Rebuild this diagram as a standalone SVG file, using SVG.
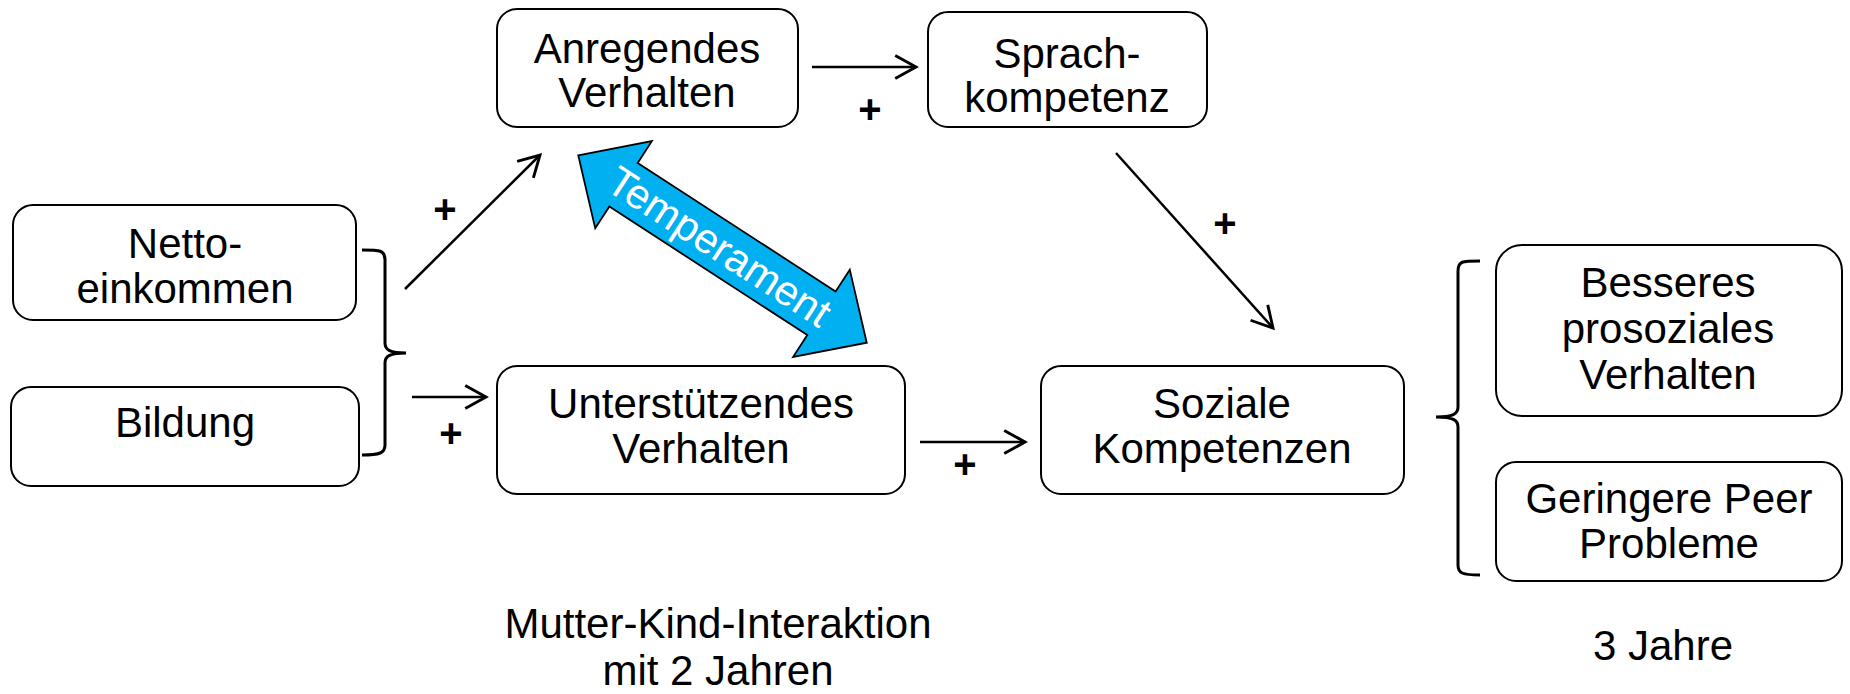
<svg xmlns="http://www.w3.org/2000/svg" width="1850" height="694" viewBox="0 0 1850 694">
<style>
.box{fill:#fff;stroke:#000;stroke-width:2}
.t{font-family:"Liberation Sans",Arial,sans-serif;font-size:42px;fill:#000;text-anchor:middle}
.plus{font-family:"Liberation Sans",Arial,sans-serif;font-size:40px;font-weight:bold;fill:#000;text-anchor:middle}
.ln{fill:none;stroke:#000;stroke-width:2.5}
.brace{fill:none;stroke:#000;stroke-width:3}
</style>
<defs>
<marker id="ah" markerUnits="userSpaceOnUse" markerWidth="30" markerHeight="30" viewBox="-22 -13 26 26" refX="0" refY="0" orient="auto">
<path d="M-18,-10 L0,0 L-18,10" fill="none" stroke="#000" stroke-width="2.5"/>
</marker>
</defs>
<rect width="1850" height="694" fill="#fff"/>

<g id="connectors">
<line class="ln" x1="405" y1="289" x2="540" y2="155" marker-end="url(#ah)"/>
<line class="ln" x1="412" y1="397" x2="486" y2="397" marker-end="url(#ah)"/>
<line class="ln" x1="812" y1="67" x2="916" y2="67" marker-end="url(#ah)"/>
<line class="ln" x1="1116" y1="153" x2="1273" y2="328" marker-end="url(#ah)"/>
<line class="ln" x1="920" y1="442" x2="1025" y2="442" marker-end="url(#ah)"/>
<path class="brace" d="M362,250 C380,250 385,250 385,260 L385,343 C385,350 390,353 406,353 C390,353 385,356 385,363 L385,445 C385,453 380,455 362,455"/>
<path class="brace" d="M1480,261 C1462,261 1458,261 1458,271 L1458,407 C1458,414 1453,417 1436,417 C1453,417 1458,420 1458,427 L1458,565 C1458,573 1462,575 1480,575"/>
<text class="plus" x="445" y="223">+</text>
<text class="plus" x="451" y="447">+</text>
<text class="plus" x="870" y="123">+</text>
<text class="plus" x="1225" y="237">+</text>
<text class="plus" x="965" y="478">+</text>
</g>

<g id="temperament" transform="translate(722.5,249) rotate(33)">
<polygon points="-172,0 -118,-52 -118,-26 118,-26 118,-52 172,0 118,52 118,26 -118,26 -118,52" fill="#00B0F0" stroke="#000" stroke-width="1.8" stroke-linejoin="miter"/>
<text class="t" x="-4" y="14" style="fill:#fff">Temperament</text>
</g>

<g id="anregendes">
<rect class="box" x="497" y="9" width="301" height="118" rx="20"/>
<text class="t" x="647" y="63">Anregendes</text>
<text class="t" x="647" y="107">Verhalten</text>
</g>
<g id="sprachkompetenz">
<rect class="box" x="928" y="12" width="279" height="115" rx="20"/>
<text class="t" x="1067" y="68">Sprach-</text>
<text class="t" x="1067" y="112">kompetenz</text>
</g>
<g id="netto">
<rect class="box" x="13" y="205" width="343" height="115" rx="20"/>
<text class="t" x="185" y="258">Netto-</text>
<text class="t" x="185" y="303">einkommen</text>
</g>
<g id="bildung">
<rect class="box" x="11" y="387" width="348" height="99" rx="20"/>
<text class="t" x="185" y="437">Bildung</text>
</g>
<g id="unterstuetzendes">
<rect class="box" x="497" y="366" width="408" height="128" rx="20"/>
<text class="t" x="701" y="418">Unterstützendes</text>
<text class="t" x="701" y="463">Verhalten</text>
</g>
<g id="soziale">
<rect class="box" x="1041" y="366" width="363" height="128" rx="20"/>
<text class="t" x="1222" y="418">Soziale</text>
<text class="t" x="1222" y="463">Kompetenzen</text>
</g>
<g id="besseres">
<rect class="box" x="1496" y="245" width="346" height="171" rx="26"/>
<text class="t" x="1668" y="297">Besseres</text>
<text class="t" x="1668" y="343">prosoziales</text>
<text class="t" x="1668" y="389">Verhalten</text>
</g>
<g id="geringere">
<rect class="box" x="1496" y="462" width="346" height="119" rx="20"/>
<text class="t" x="1669" y="513">Geringere Peer</text>
<text class="t" x="1669" y="558">Probleme</text>
</g>
<g id="labels">
<text class="t" x="718" y="638">Mutter-Kind-Interaktion</text>
<text class="t" x="718" y="685">mit 2 Jahren</text>
<text class="t" x="1663" y="660">3 Jahre</text>
</g>
</svg>
